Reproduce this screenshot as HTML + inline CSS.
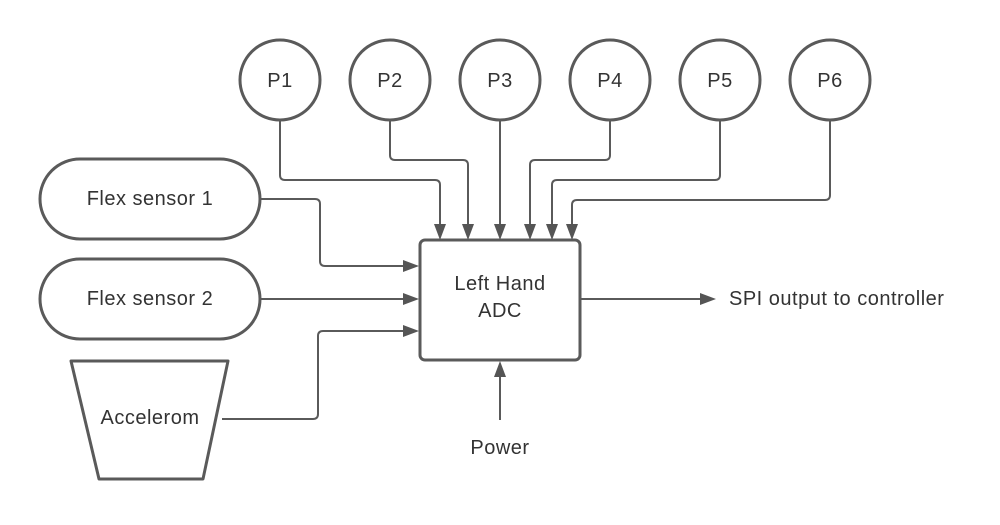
<!DOCTYPE html>
<html><head><style>body{margin:0;background:#fff}</style></head><body>
<svg width="1000" height="520" viewBox="0 0 1000 520" xmlns="http://www.w3.org/2000/svg" font-family="Liberation Sans, sans-serif" font-size="20" letter-spacing="0.5" fill="#333">
<g fill="#fff" stroke="#5a5a5a" stroke-width="3">
<circle cx="280" cy="80" r="40"/><circle cx="390" cy="80" r="40"/><circle cx="500" cy="80" r="40"/>
<circle cx="610" cy="80" r="40"/><circle cx="720" cy="80" r="40"/><circle cx="830" cy="80" r="40"/>
<rect x="40" y="159" width="220" height="80" rx="40"/>
<rect x="40" y="259" width="220" height="80" rx="40"/>
<path d="M71,361 L228,361 L203,479 L99,479 Z" stroke-linejoin="round"/>
<rect x="420" y="240" width="160" height="120" rx="5"/>
</g>
<g fill="none" stroke="#5a5a5a" stroke-width="2" stroke-linejoin="round">
<path d="M280,120 V175 Q280,180 285,180 H435 Q440,180 440,185 V224"/>
<path d="M390,120 V155 Q390,160 395,160 H463 Q468,160 468,165 V224"/>
<path d="M500,120 V224"/>
<path d="M610,120 V155 Q610,160 605,160 H535 Q530,160 530,165 V224"/>
<path d="M720,120 V175 Q720,180 715,180 H557 Q552,180 552,185 V224"/>
<path d="M830,120 V195 Q830,200 825,200 H577 Q572,200 572,205 V224"/>
<path d="M261,199 H315 Q320,199 320,204 V261 Q320,266 325,266 H404"/>
<path d="M261,299 H404"/>
<path d="M222,419 H313 Q318,419 318,414 V336 Q318,331 323,331 H404"/>
<path d="M580,299 H700"/>
<path d="M500,420 V376"/>
</g>
<g fill="#555">
<path d="M434,224 L446,224 L440,240 Z"/><path d="M462,224 L474,224 L468,240 Z"/>
<path d="M494,224 L506,224 L500,240 Z"/><path d="M524,224 L536,224 L530,240 Z"/>
<path d="M546,224 L558,224 L552,240 Z"/><path d="M566,224 L578,224 L572,240 Z"/>
<path d="M403,260 L403,272 L419,266 Z"/><path d="M403,293 L403,305 L419,299 Z"/>
<path d="M403,325 L403,337 L419,331 Z"/><path d="M700,293 L700,305 L716,299 Z"/>
<path d="M494,377 L506,377 L500,361 Z"/>
</g>
<g text-anchor="middle">
<text x="280" y="87">P1</text><text x="390" y="87">P2</text><text x="500" y="87">P3</text>
<text x="610" y="87">P4</text><text x="720" y="87">P5</text><text x="830" y="87">P6</text>
<text x="150" y="205">Flex sensor 1</text><text x="150" y="305">Flex sensor 2</text>
<text x="150" y="424">Accelerom</text>
<text x="500" y="290">Left Hand</text><text x="500" y="317">ADC</text>
<text x="500" y="454">Power</text>
</g>
<text x="729" y="305">SPI output to controller</text>
</svg>
</body></html>
